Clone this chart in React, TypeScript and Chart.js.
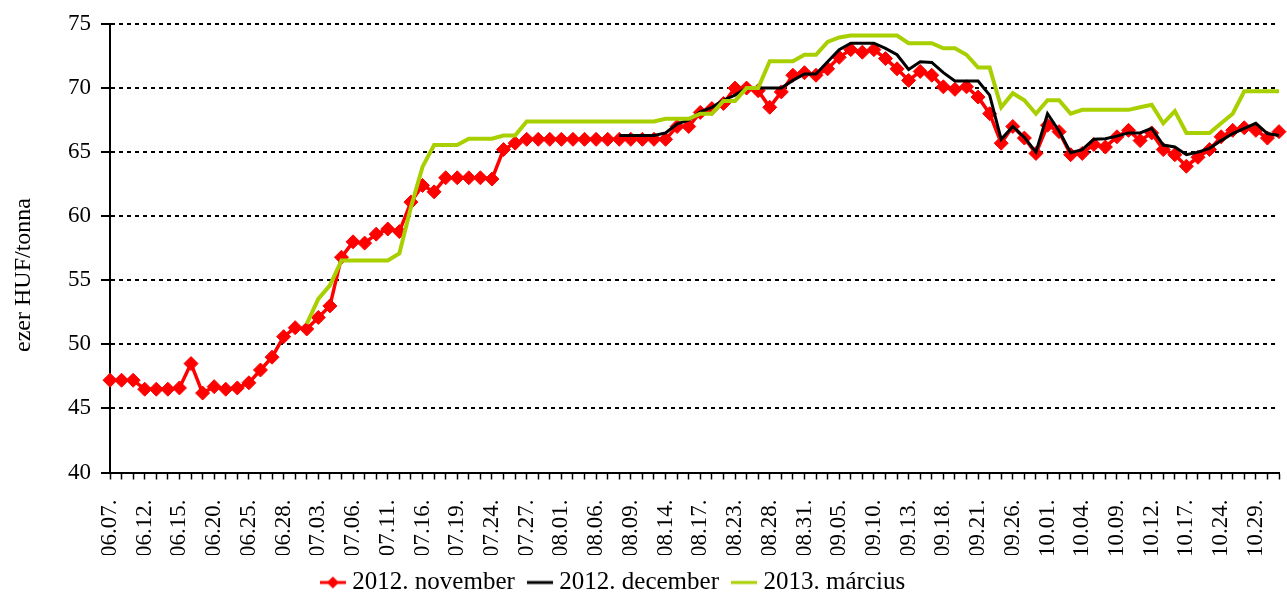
import { useEffect, useRef } from "react";
import { Chart, registerables } from "chart.js";

Chart.register(...registerables);

const dates = ["06.07.","06.08.","06.11.","06.12.","06.13.","06.14.","06.15.","06.18.","06.19.","06.20.","06.21.","06.22.","06.25.","06.26.","06.27.","06.28.","06.29.","07.02.","07.03.","07.04.","07.05.","07.06.","07.09.","07.10.","07.11.","07.12.","07.13.","07.16.","07.17.","07.18.","07.19.","07.20.","07.23.","07.24.","07.25.","07.26.","07.27.","07.30.","07.31.","08.01.","08.02.","08.03.","08.06.","08.07.","08.08.","08.09.","08.10.","08.13.","08.14.","08.15.","08.16.","08.17.","08.21.","08.22.","08.23.","08.24.","08.27.","08.28.","08.29.","08.30.","08.31.","09.03.","09.04.","09.05.","09.06.","09.07.","09.10.","09.11.","09.12.","09.13.","09.14.","09.17.","09.18.","09.19.","09.20.","09.21.","09.24.","09.25.","09.26.","09.27.","09.28.","10.01.","10.02.","10.03.","10.04.","10.05.","10.08.","10.09.","10.10.","10.11.","10.12.","10.15.","10.16.","10.17.","10.18.","10.19.","10.24.","10.25.","10.26.","10.29.","10.30.","10.31."];

const november = [47.2,47.2,47.2,46.5,46.5,46.5,46.6,48.5,46.2,46.7,46.5,46.6,47.0,48.0,49.0,50.6,51.3,51.2,52.1,53.0,56.8,58.0,57.9,58.6,59.0,58.8,61.1,62.4,61.9,63.0,63.0,63.0,63.0,62.9,65.2,65.7,66.0,66.0,66.0,66.0,66.0,66.0,66.0,66.0,66.0,66.0,66.0,66.0,66.0,67.0,67.0,68.1,68.4,68.8,70.0,70.0,69.8,68.5,69.7,71.0,71.2,71.0,71.5,72.4,73.0,72.8,73.0,72.3,71.5,70.6,71.3,71.0,70.1,69.9,70.1,69.3,68.0,65.7,67.0,66.1,64.9,67.1,66.6,64.8,64.9,65.6,65.4,66.2,66.7,65.9,66.5,65.2,64.8,63.9,64.6,65.2,66.2,66.7,66.9,66.7,66.1,66.6];

const december = [null,null,null,null,null,null,null,null,null,null,null,null,null,null,null,null,null,null,null,null,null,null,null,null,null,null,null,null,null,null,null,null,null,null,null,null,null,null,null,null,null,null,null,null,66.3,66.3,66.3,66.3,66.5,67.2,67.5,68.15,68.5,69.05,69.45,70.0,70.0,70.0,70.0,70.6,71.1,71.1,72.05,73.0,73.5,73.5,73.5,73.1,72.6,71.45,72.05,72.0,71.2,70.55,70.55,70.55,69.45,66.0,67.0,66.15,65.0,68.0,66.65,64.95,65.2,66.0,66.05,66.25,66.5,66.5,66.85,65.55,65.4,64.8,65.0,65.3,65.9,66.45,66.85,67.25,66.45,66.3];

const marcius = [null,null,null,null,null,null,null,null,null,null,null,null,null,null,null,null,null,51.6,53.55,54.6,56.55,56.55,56.55,56.55,56.55,57.1,60.7,63.85,65.55,65.55,65.55,66.05,66.05,66.05,66.3,66.3,67.4,67.4,67.4,67.4,67.4,67.4,67.4,67.4,67.4,67.4,67.4,67.4,67.6,67.6,67.6,68.0,68.0,69.0,69.0,70.0,70.0,72.1,72.1,72.1,72.6,72.6,73.6,73.95,74.1,74.1,74.1,74.1,74.1,73.5,73.5,73.5,73.1,73.1,72.6,71.6,71.6,68.5,69.6,69.05,68.0,69.05,69.05,68.0,68.3,68.3,68.3,68.3,68.3,68.5,68.7,67.25,68.2,66.5,66.5,66.5,67.25,68.0,69.75,69.75,69.75,69.75];

const seriesNames = ["2012. november", "2012. december", "2013. március"];
const seriesColors = ["#FF0000", "#000000", "#A8CF00"];
const yTitle = "ezer HUF/tonna";

const FONT = "'Liberation Serif', 'DejaVu Serif', serif";

function makeIcon(color: string, diamond: boolean) {
  const c = document.createElement("canvas");
  c.width = 26;
  c.height = 16;
  const ctx = c.getContext("2d")!;
  ctx.strokeStyle = color;
  ctx.lineWidth = 3;
  ctx.beginPath();
  ctx.moveTo(0, 8);
  ctx.lineTo(26, 8);
  ctx.stroke();
  if (diamond) {
    ctx.fillStyle = color;
    ctx.beginPath();
    ctx.moveTo(13, 2);
    ctx.lineTo(19, 8);
    ctx.lineTo(13, 14);
    ctx.lineTo(7, 8);
    ctx.closePath();
    ctx.fill();
  }
  return c;
}

export default function App() {
  const ref = useRef<HTMLCanvasElement | null>(null);

  useEffect(() => {
    if (!ref.current) return;
    const icons = [
      makeIcon(seriesColors[0], true),
      makeIcon(seriesColors[1], false),
      makeIcon(seriesColors[2], false),
    ];
    const legendShift = {
      id: "legendShift",
      afterLayout(chart: any) {
        const l = chart.legend;
        if (l) {
          l.left -= 26;
          l.right -= 26;
          l.top -= 3;
          l.bottom -= 3;
        }
      },
    };
    const yTitlePlugin = {
      id: "yTitlePlugin",
      afterDraw(chart: any) {
        const ctx = chart.ctx;
        ctx.save();
        ctx.translate(24, 275);
        ctx.rotate(-Math.PI / 2);
        ctx.font = `24px ${FONT}`;
        ctx.fillStyle = "#000";
        ctx.textAlign = "center";
        ctx.textBaseline = "middle";
        ctx.fillText(yTitle, 0, 0);
        ctx.restore();
      },
    };
    const chart = new Chart(ref.current, {
      type: "line",
      data: {
        labels: dates,
        datasets: [
          {
            label: seriesNames[0],
            data: november,
            borderColor: seriesColors[0],
            backgroundColor: seriesColors[0],
            borderWidth: 3.5,
            pointStyle: "rectRot",
            pointRadius: 7,
            pointBorderWidth: 1,
            pointBackgroundColor: seriesColors[0],
            pointBorderColor: seriesColors[0],
            tension: 0,
            clip: false,
            order: 2,
          },
          {
            label: seriesNames[1],
            data: december,
            borderColor: seriesColors[1],
            backgroundColor: seriesColors[1],
            borderWidth: 3,
            pointRadius: 0,
            tension: 0,
            order: 1,
          },
          {
            label: seriesNames[2],
            data: marcius,
            borderColor: seriesColors[2],
            backgroundColor: seriesColors[2],
            borderWidth: 4,
            pointRadius: 0,
            tension: 0,
            order: 0,
          },
        ],
      },
      options: {
        responsive: false,
        animation: false,
        layout: { padding: { left: 0, right: 4, top: 24, bottom: -14 } },
        plugins: {
          tooltip: { enabled: false },
          legend: {
            position: "bottom",
            labels: {
              usePointStyle: true,
              pointStyleWidth: 14,
              padding: 18,
              color: "#000",
              font: { family: FONT, size: 25 },
              sort: (a: any, b: any) => a.datasetIndex - b.datasetIndex,
              generateLabels: () =>
                seriesNames.map((name, i) => ({
                  text: name,
                  fillStyle: seriesColors[i],
                  strokeStyle: seriesColors[i],
                  lineWidth: 0,
                  pointStyle: icons[i],
                  hidden: false,
                  datasetIndex: i,
                  fontColor: "#000",
                })),
            },
          },
        },
        scales: {
          x: {
            type: "category",
            offset: false,
            grid: {
              drawOnChartArea: false,
              drawTicks: true,
              tickLength: 7,
              tickColor: "#000",
              tickWidth: 1.5,
            },
            border: { color: "#000", width: 2 },
            ticks: {
              autoSkip: false,
              maxRotation: 90,
              minRotation: 90,
              padding: 20,
              color: "#000",
              font: { family: FONT, size: 23 },
              callback: (_v: any, i: number) => (i % 3 === 0 ? dates[i] : ""),
            },
            afterFit: (s: any) => {
              s.paddingLeft = 0;
              s.paddingRight = 0;
              s.height = s.height - 22;
            },
          },
          y: {
            min: 40,
            max: 75,
            ticks: {
              stepSize: 5,
              padding: 10,
              color: "#000",
              font: { family: FONT, size: 23 },
            },
            grid: {
              color: "#000",
              lineWidth: 2,
              tickLength: 9,
              tickColor: "#000",
              tickWidth: 2,
              tickBorderDash: [],
            },
            border: { color: "#000", width: 2, dash: [4, 4] },
            title: { display: false },
            afterFit: (s: any) => {
              s.width = 110;
            },
          },
        },
      },
      plugins: [legendShift, yTitlePlugin],
    } as any);
    return () => chart.destroy();
  }, []);

  return (
    <div style={{ position: "fixed", left: 0, top: 0, width: 1287, height: 594, background: "#fff" }}>
      <canvas ref={ref} width={1287} height={594} />
    </div>
  );
}
